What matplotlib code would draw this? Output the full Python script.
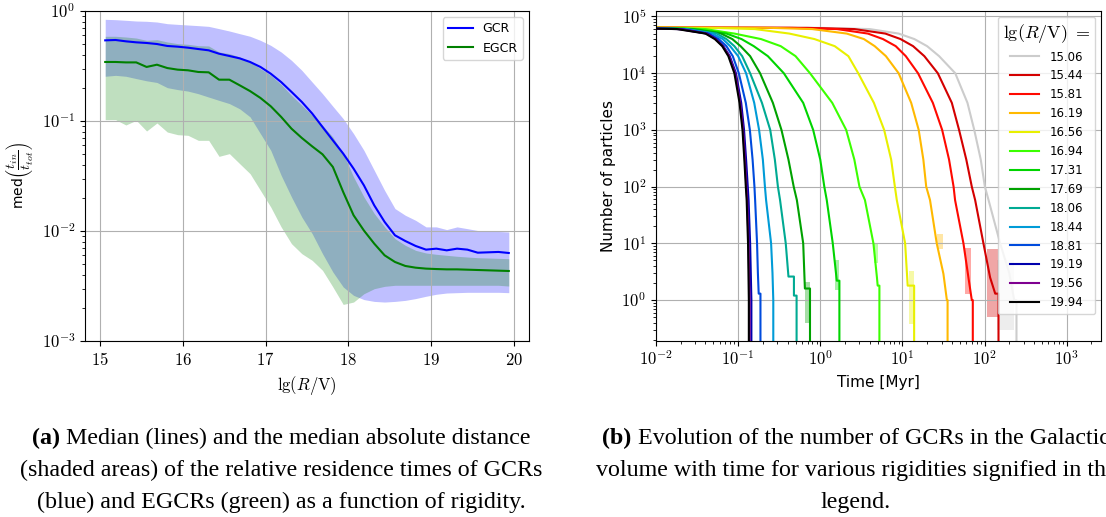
import numpy as np
import matplotlib
matplotlib.use('Agg')
import matplotlib.pyplot as plt
from matplotlib.ticker import FuncFormatter, NullFormatter, FixedLocator

plt.rcParams['mathtext.fontset'] = 'cm'

# ---------------- (a) relative residence times vs rigidity ----------------
lg_rig = [15.0625, 15.1875, 15.3125, 15.4375, 15.5625, 15.6875, 15.8125, 15.9375,
          16.0625, 16.1875, 16.3125, 16.4375, 16.5625, 16.6875, 16.8125, 16.9375,
          17.0625, 17.1875, 17.3125, 17.4375, 17.5625, 17.6875, 17.8125, 17.9375,
          18.0625, 18.1875, 18.3125, 18.4375, 18.5625, 18.6875, 18.8125, 18.9375,
          19.0625, 19.1875, 19.3125, 19.4375, 19.5625, 19.6875, 19.8125, 19.9375]

gcr_med = [0.541, 0.545, 0.530, 0.519, 0.512, 0.501, 0.481, 0.474, 0.464, 0.451,
           0.439, 0.409, 0.390, 0.371, 0.344, 0.310, 0.269, 0.226, 0.184, 0.149,
           0.117, 0.0882, 0.0667, 0.0505, 0.0369, 0.0260, 0.0171, 0.0121, 0.00914, 0.00811,
           0.00731, 0.00677, 0.00691, 0.00667, 0.00691, 0.00677, 0.00635, 0.00640, 0.00645, 0.00631]
gcr_hi = [0.840, 0.834, 0.823, 0.811, 0.806, 0.794, 0.767, 0.756, 0.746, 0.736,
          0.725, 0.691, 0.658, 0.622, 0.589, 0.541, 0.487, 0.424, 0.356, 0.289,
          0.226, 0.177, 0.136, 0.105, 0.0767, 0.0541, 0.0356, 0.0234, 0.0160, 0.0139,
          0.0125, 0.0109, 0.0109, 0.0103, 0.0109, 0.0105, 0.0101, 0.0100, 0.0099, 0.0098]
gcr_lo = [0.255, 0.260, 0.255, 0.243, 0.232, 0.224, 0.201, 0.193, 0.187, 0.177,
          0.165, 0.154, 0.144, 0.129, 0.109, 0.0767, 0.0541, 0.0321, 0.0204, 0.0134,
          0.00946, 0.00622, 0.00424, 0.00310, 0.00260, 0.00238, 0.00229, 0.00226, 0.00229, 0.00234,
          0.00243, 0.00255, 0.00266, 0.00273, 0.00275, 0.00277, 0.00277, 0.00277, 0.00277, 0.00275]

egcr_med = [0.344, 0.344, 0.341, 0.341, 0.310, 0.325, 0.303, 0.293, 0.289, 0.279,
            0.277, 0.2375, 0.2375, 0.211, 0.187, 0.162, 0.136, 0.109, 0.0852, 0.0701,
            0.0588, 0.0498, 0.0382, 0.0226, 0.0139, 0.0101, 0.00767, 0.00601, 0.00523, 0.00481,
            0.00464, 0.00455, 0.00451, 0.00448, 0.00448, 0.00445, 0.00442, 0.00439, 0.00436, 0.00433]
egcr_hi = [0.589, 0.589, 0.580, 0.568, 0.541, 0.549, 0.523, 0.505, 0.498, 0.484,
           0.481, 0.424, 0.410, 0.382, 0.344, 0.299, 0.260, 0.215, 0.171, 0.139,
           0.1126, 0.0913, 0.0715, 0.0505, 0.0310, 0.0204, 0.0144, 0.0109, 0.00852, 0.00741,
           0.00667, 0.00631, 0.00614, 0.00601, 0.00589, 0.00580, 0.00572, 0.00568, 0.00564, 0.00560]
egcr_lo = [0.1028, 0.1028, 0.0920, 0.1014, 0.0811, 0.0959, 0.0794, 0.0751, 0.0741, 0.0667,
           0.0667, 0.0477, 0.0505, 0.0409, 0.0332, 0.0234, 0.0165, 0.0109, 0.00767, 0.00622,
           0.00541, 0.00439, 0.00310, 0.00215, 0.00226, 0.00269, 0.00299, 0.00314, 0.00321, 0.00321,
           0.00321, 0.00321, 0.00321, 0.00321, 0.00321, 0.00321, 0.00321, 0.00321, 0.00321, 0.00316]

# ---------------- (b) number of particles vs time ----------------
rig_labels = ['15.06', '15.44', '15.81', '16.19', '16.56', '16.94', '17.31',
              '17.69', '18.06', '18.44', '18.81', '19.19', '19.56', '19.94']

t_1506 = [0.01, 1.0, 4.0, 9.0, 14.0, 20.0, 28.0, 44.0, 62.0, 75.0, 90.0, 101, 112, 155, 200, 230, 245, 245]
n_1506 = [64000, 63000, 60000, 50000, 40000, 30000, 20000, 10000, 3000, 1000, 300, 100, 58, 10, 3, 1, 1, 0]
t_1544 = [0.01, 0.7, 2.6, 6.2, 9.5, 13.5, 18.5, 27.0, 40.0, 49.0, 60.0, 70.0, 76.9, 97.0, 117, 135, 148, 148]
n_1544 = [64000, 63000, 60000, 50000, 40000, 30000, 20000, 10000, 3000, 1000, 300, 100, 58, 10, 2.5, 1.3, 1.3, 0]
t_1581 = [0.01, 0.45, 1.6, 3.8, 5.8, 8.3, 11.0, 15.5, 23.5, 30.5, 37.0, 42.0, 43.8, 55.4, 63.7, 70.0, 72.0, 72.0]
n_1581 = [64000, 63000, 60000, 50000, 40000, 30000, 20000, 10000, 3000, 1000, 300, 100, 58, 10, 2.5, 1.0, 1.0, 0]
t_1619 = [0.01, 0.25, 0.8, 2.1, 3.4, 4.6, 6.3, 9.0, 12.8, 15.8, 18.0, 19.5, 21.7, 26.2, 31.6, 34.8, 35.5, 35.5]
n_1619 = [64000, 63000, 60000, 50000, 40000, 30000, 20000, 10000, 3000, 1000, 300, 100, 58, 10, 2.9, 1.0, 1.0, 0]
t_1656 = [0.01, 0.06, 0.16, 0.42, 0.85, 1.5, 2.2, 2.9, 4.5, 6.0, 7.3, 8.1, 8.55, 10.8, 11.6, 13.9, 13.9]
n_1656 = [63500, 62500, 60000, 50000, 40000, 30000, 20000, 10000, 3000, 1000, 300, 100, 58, 10, 1.8, 1.8, 0]
t_1694 = [0.01, 0.02, 0.04, 0.09, 0.19, 0.33, 0.50, 0.75, 1.4, 2.07, 2.6, 3.0, 3.5, 4.44, 4.9, 5.0, 5.25, 5.25]
n_1694 = [63000, 62000, 60000, 50000, 40000, 30000, 20000, 10000, 3000, 1000, 300, 100, 58, 10, 2.5, 1.8, 1.8, 0]
t_1731 = [0.01, 0.03, 0.072, 0.11, 0.155, 0.23, 0.36, 0.62, 0.82, 1.0, 1.12, 1.2, 1.42, 1.59, 1.71, 1.71]
n_1731 = [62500, 60000, 50000, 40000, 30000, 20000, 10000, 3000, 1000, 300, 100, 58, 10, 2.2, 2.2, 0]
t_1769 = [0.01, 0.026, 0.062, 0.085, 0.107, 0.14, 0.185, 0.265, 0.337, 0.41, 0.475, 0.519, 0.62, 0.65, 0.75, 0.75]
n_1769 = [62000, 60000, 50000, 40000, 30000, 20000, 10000, 3000, 1000, 300, 100, 58, 10, 1.6, 1.6, 0]
t_1806 = [0.01, 0.024, 0.055, 0.072, 0.09, 0.112, 0.14, 0.195, 0.246, 0.28, 0.305, 0.324, 0.38, 0.41, 0.478, 0.478, 0.515, 0.515]
n_1806 = [61800, 60000, 50000, 40000, 30000, 20000, 10000, 3000, 1000, 300, 100, 58, 10, 2.6, 2.6, 1.2, 1.2, 0]
t_1844 = [0.01, 0.022, 0.049, 0.065, 0.08, 0.10, 0.125, 0.157, 0.18, 0.20, 0.212, 0.219, 0.252, 0.262, 0.268, 0.27]
n_1844 = [61500, 60000, 50000, 40000, 30000, 20000, 10000, 3000, 1000, 300, 100, 58, 10, 3, 1, 0]
t_1881 = [0.01, 0.021, 0.044, 0.058, 0.072, 0.086, 0.102, 0.124, 0.139, 0.15, 0.158, 0.161, 0.17, 0.174, 0.178, 0.187, 0.187]
n_1881 = [61200, 60000, 50000, 40000, 30000, 20000, 10000, 3000, 1000, 300, 100, 58, 10, 3, 1.3, 1.3, 0]
t_1919 = [0.01, 0.02, 0.042, 0.054, 0.066, 0.079, 0.094, 0.109, 0.118, 0.125, 0.131, 0.134, 0.14, 0.145, 0.147]
n_1919 = [61000, 60000, 50000, 40000, 30000, 20000, 10000, 3000, 1000, 300, 100, 58, 10, 1, 0]
t_1956 = [0.01, 0.019, 0.041, 0.053, 0.065, 0.078, 0.092, 0.106, 0.115, 0.121, 0.126, 0.129, 0.134, 0.138, 0.139]
n_1956 = [61000, 60000, 50000, 40000, 30000, 20000, 10000, 3000, 1000, 300, 100, 58, 10, 1, 0]
t_1994 = [0.01, 0.018, 0.040, 0.052, 0.064, 0.076, 0.090, 0.104, 0.113, 0.119, 0.124, 0.127, 0.132, 0.135, 0.136]
n_1994 = [61000, 60000, 50000, 40000, 30000, 20000, 10000, 3000, 1000, 300, 100, 58, 10, 1, 0]

times = [t_1506, t_1544, t_1581, t_1619, t_1656, t_1694, t_1731,
         t_1769, t_1806, t_1844, t_1881, t_1919, t_1956, t_1994]
counts = [n_1506, n_1544, n_1581, n_1619, n_1656, n_1694, n_1731,
          n_1769, n_1806, n_1844, n_1881, n_1919, n_1956, n_1994]

# spread of the last few particles (curve index, N range, t range)
band_idx = [0, 1, 2, 3, 4, 5, 6, 7]
band_n = [(0.3, 5.0), (0.5, 8.0), (1.3, 8.3), (8.0, 14.8), (0.38, 3.2), (4.5, 10.0), (1.5, 5.1), (0.39, 2.1)]
band_t = [(140, 230), (108, 145), (58, 69), (26.5, 31), (12.0, 14.0), (4.5, 5.0), (1.53, 1.69), (0.65, 0.74)]

fig = plt.figure(figsize=(11.06, 5.17), dpi=100)
W, H = 1106, 517


def pow10(v, pos):
    return r'$10^{%d}$' % int(round(np.log10(v)))


# ---- left panel ----
ax1 = fig.add_axes([85 / W, 1 - 341 / H, 444 / W, 330 / H])
ax1.fill_between(lg_rig, gcr_lo, gcr_hi, color='b', alpha=0.25, lw=0)
ax1.fill_between(lg_rig, egcr_lo, egcr_hi, color='g', alpha=0.25, lw=0)
ax1.plot(lg_rig, gcr_med, color='b', lw=1.5, label='GCR')
ax1.plot(lg_rig, egcr_med, color='g', lw=1.5, label='EGCR')
ax1.set_yscale('log')
ax1.set_ylim(1e-3, 1)
ax1.set_xlim(14.8185, 20.1815)
ax1.xaxis.set_major_locator(FixedLocator([15, 16, 17, 18, 19, 20]))
ax1.xaxis.set_major_formatter(FuncFormatter(lambda v, p: r'$%d$' % int(round(v))))
ax1.yaxis.set_major_formatter(FuncFormatter(pow10))
ax1.yaxis.set_minor_formatter(NullFormatter())
ax1.tick_params(labelsize=12)
ax1.grid(True)
ax1.set_xlabel(r'$\mathrm{lg}(R/\mathrm{V})$', fontsize=12)
ax1.set_ylabel(r'med$\left(\dfrac{t_{in}}{t_{tot}}\right)$', fontsize=10, labelpad=4)
ax1.legend(loc='upper right', fontsize=9)

# ---- right panel ----
ax2 = fig.add_axes([656 / W, 1 - 341 / H, 445 / W, 330 / H])
cols = plt.cm.nipy_spectral(np.linspace(1, 0, len(rig_labels)))
for k, (lab, tt, nn) in enumerate(zip(rig_labels, times, counts)):
    ax2.plot(tt, nn, color=cols[k], lw=1.5, label=lab)
for k, (n0, n1), (t0, t1) in zip(band_idx, band_n, band_t):
    ax2.fill_betweenx([n0, n1], t0, t1, color=cols[k], alpha=0.35, lw=0)
ax2.set_xscale('log')
ax2.set_yscale('log', nonpositive='clip')
ax2.set_xlim(1e-2, 2620)
ax2.set_ylim(0.19, 1.25e5)
ax2.xaxis.set_major_formatter(FuncFormatter(pow10))
ax2.yaxis.set_major_formatter(FuncFormatter(pow10))
ax2.xaxis.set_minor_formatter(NullFormatter())
ax2.yaxis.set_minor_formatter(NullFormatter())
ax2.tick_params(labelsize=12)
ax2.grid(True)
ax2.set_xlabel('Time [Myr]', fontsize=11)
ax2.set_ylabel('Number of particles', fontsize=11)
ax2.legend(loc='upper right', fontsize=8.5, title=r'$\mathrm{lg}(R/\mathrm{V})\ =$',
           title_fontsize=13, labelspacing=0.5, handlelength=2.5, handletextpad=0.85)

# ---- captions ----
cap_font = dict(family='Liberation Serif', fontsize=17.3)
cap_left = [('(a)', ' Median (lines) and the median absolute distance'),
            ('', '(shaded areas) of the relative residence times of GCRs'),
            ('', '(blue) and EGCRs (green) as a function of rigidity.')]
cap_right = [('(b)', ' Evolution of the number of GCRs in the Galactic'),
             ('', 'volume with time for various rigidities signified in the'),
             ('', 'legend.')]
baselines = [444, 476, 508]

renderer = fig.canvas.get_renderer()


def caption(lines, xc):
    for (bold, rest), yb in zip(lines, baselines):
        y = 1 - yb / H
        t1 = fig.text(0, y, bold, fontweight='bold', va='baseline', **cap_font)
        t2 = fig.text(0, y, rest, va='baseline', **cap_font)
        w1 = t1.get_window_extent(renderer).width if bold else 0
        w2 = t2.get_window_extent(renderer).width
        x0 = xc - (w1 + w2) / 2
        t1.set_x(x0 / W)
        t2.set_x((x0 + w1) / W)


caption(cap_left, 281)
caption(cap_right, 856)

fig.savefig('out.png', dpi=100)
